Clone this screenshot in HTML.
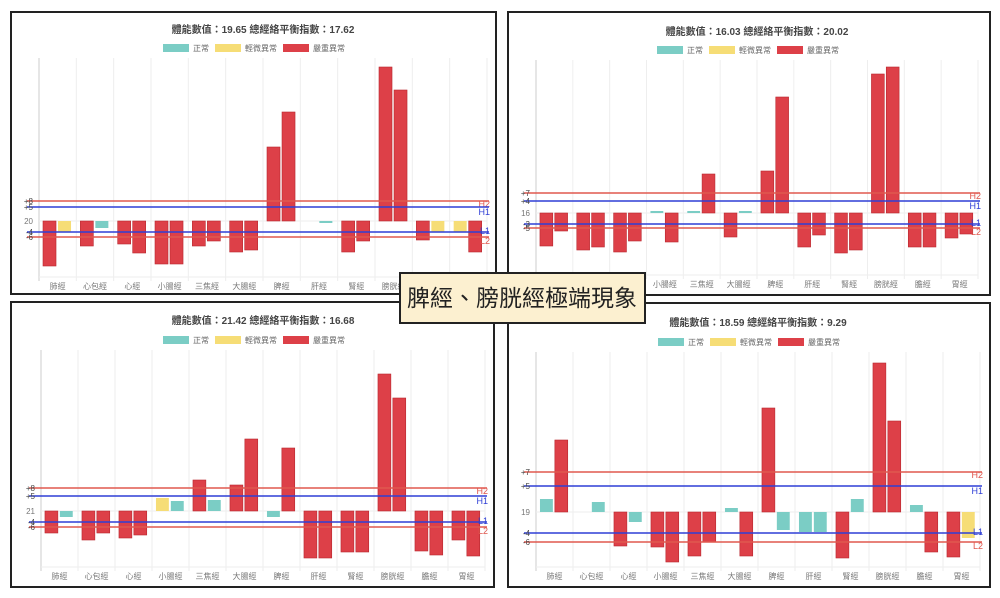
<!DOCTYPE html>
<html><head><meta charset="utf-8"><style>
body{margin:0;background:#fff;}
svg{display:block;font-family:"Liberation Sans","Noto Sans CJK TC",sans-serif;}
</style></head><body>
<svg id="s" width="1000" height="598" viewBox="0 0 1000 598"></svg>
<script>
const categories=["肺經","心包經","心經","小腸經","三焦經","大腸經","脾經","肝經","腎經","膀胱經","膽經","胃經"];
// series values (deviation units), 'r'=red,'y'=yellow,'t'=teal status
const c1Left=[-45,-25,-23,-43,-25,-31,74,0,-31,154,-19,-11];
const c1Right=[-11,-7,-32,-43,-20,-29,109,-2,-20,131,-11,-31];
const c1LeftC=["r","r","r","r","r","r","r","t","r","r","r","y"];
const c1RightC=["y","t","r","r","r","r","r","t","r","r","y","r"];
const c2Left=[-33,-37,-39,2,2,-24,42,-34,-40,139,-34,-25];
const c2Right=[-18,-34,-28,-29,39,2,116,-22,-37,146,-34,-21];
const c2LeftC=["r","r","r","t","t","r","r","r","r","r","r","r"];
const c2RightC=["r","r","r","r","r","t","r","r","r","r","r","r"];
const c3Left=[-22,-29,-27,13,31,26,-6,-47,-41,137,-40,-29];
const c3Right=[-6,-22,-24,10,11,72,63,-47,-41,113,-44,-45];
const c3LeftC=["r","r","r","y","r","r","t","r","r","r","r","r"];
const c3RightC=["t","r","r","t","t","r","r","r","r","r","r","r"];
const c4Left=[13,0,-34,-35,-44,4,104,-20,-46,149,7,-45];
const c4Right=[72,10,-10,-50,-30,-44,-18,-20,13,91,-40,-26];
const c4LeftC=["t","t","r","r","r","t","r","t","r","r","t","r"];
const c4RightC=["r","t","t","r","r","r","t","t","t","r","r","y"];
const titles=["體能數值：19.65 總經絡平衡指數：17.62","體能數值：16.03 總經絡平衡指數：20.02","體能數值：21.42 總經絡平衡指數：16.68","體能數值：18.59 總經絡平衡指數：9.29"];
const baseLabels=["20","16","21","19"];
const hiLabels=[["+8","+5"],["+7","+4"],["+8","+5"],["+7","+5"]];
const loLabels=[["-4","-6"],["-3","-5"],["-4","-6"],["-4","-6"]];
const legendNames=["正常","輕微異常","嚴重異常"];

const COL={r:"#dd4048",y:"#f6dd76",t:"#7bcdc5"};
const layouts=[
 {box:[11,12,485,282],L:39,R:487,T:58,B:277,base:221,h2:201,h1:207,l1:232,l2:237,ty:33,ly:48},
 {box:[508,12,482,283],L:536,R:978,T:60,B:275,base:213,h2:193,h1:201,l1:224,l2:228,ty:35,ly:50},
 {box:[11,302,483,285],L:41,R:485,T:350,B:567,base:511,h2:488,h1:496,l1:522,l2:527,ty:324,ly:340},
 {box:[508,303,482,284],L:536,R:980,T:352,B:567,base:512,h2:472,h1:486,l1:533,l2:542,ty:326,ly:342}
];
const data=[[c1Left,c1Right,c1LeftC,c1RightC],[c2Left,c2Right,c2LeftC,c2RightC],[c3Left,c3Right,c3LeftC,c3RightC],[c4Left,c4Right,c4LeftC,c4RightC]];
const NS="http://www.w3.org/2000/svg";
const svg=document.getElementById('s');
function el(t,a,p){const e=document.createElementNS(NS,t);for(const k in a)e.setAttribute(k,a[k]);(p||svg).appendChild(e);return e;}
function txt(s,a,p){const e=el('text',a,p);e.textContent=s;return e;}

layouts.forEach((g,ci)=>{
 const grp=el('g',{});
 
 
 const bx=el('rect',{x:g.box[0],y:g.box[1],width:g.box[2],height:g.box[3],fill:'#fff',stroke:'#222','stroke-width':2},grp);
 
 
 const cx=(g.L+g.R)/2;
 const t=txt(titles[ci],{x:cx,y:g.ty,'text-anchor':'middle','font-size':10,'font-weight':'bold',fill:'#444'},grp);
 
 
 // legend
 const lx=[cx-100,cx-48,cx+20];
 ["t","y","r"].forEach((c,i)=>{
  const lg=el('g',{},grp);
  
  
  el('rect',{x:lx[i],y:g.ly-4,width:26,height:8,fill:COL[c]},lg);
  txt(legendNames[i],{x:lx[i]+30,y:g.ly+3,'font-size':8,fill:'#666'},lg);
 });
 const cw=(g.R-g.L)/categories.length;
 for(let i=0;i<=categories.length;i++){
  const gl=el('line',{x1:g.L+i*cw,x2:g.L+i*cw,y1:g.T,y2:g.B+4,stroke:i==0?'#ccc':'#eee','stroke-width':1},grp);
  
  
 }
 el('line',{x1:g.L,x2:g.R,y1:g.B,y2:g.B,stroke:'#eee'},grp);
 el('line',{x1:g.L,x2:g.R,y1:g.base,y2:g.base,stroke:'#eee'},grp);
 const scale=v=>g.base-v;
 const [lv,rv,lc,rc]=data[ci];
 categories.forEach((cat,i)=>{
  const x0=g.L+i*cw;
  [[lv[i],lc[i],4],[rv[i],rc[i],19]].forEach(([v,c,off],j)=>{
   if(v===0)return;
   const y1=scale(v),y0=scale(0);
   const b=el('rect',{x:x0+off*cw/37.3,y:Math.min(y0,y1),width:13*cw/37.3,height:Math.abs(y1-y0),fill:COL[c],stroke:c==='r'?'#b8282f':'none','stroke-width':0.6},grp);
   
   
  });
  const lb=txt(cat,{x:x0+cw/2,y:g.B+12,'text-anchor':'middle','font-size':8,fill:'#777'},grp);
  
  
 });
 [[g.h2,'#e0584f','H2',hiLabels[ci][0],1],[g.h1,'#2f3fd6','H1',hiLabels[ci][1],1],[g.l1,'#2f3fd6','L1',loLabels[ci][0],0],[g.l2,'#e0584f','L2',loLabels[ci][1],0]].forEach(([y,col,nm,lab,hi])=>{
  const ln=el('line',{x1:g.L-12,x2:g.R+2,y1:y,y2:y,stroke:col,'stroke-width':1.5},grp);
  
  
  txt(nm,{x:g.R+3,y:hi?y+(nm=='H2'?6:8):y+(nm=='L1'?2:7),'text-anchor':'end','font-size':9,fill:col},grp);
  txt(lab,{x:g.L-6,y:y+3,'text-anchor':'end','font-size':8,fill:'#444'},grp);
 });
 txt(baseLabels[ci],{x:g.L-6,y:g.base+3,'text-anchor':'end','font-size':8,fill:'#777'},grp);
});
const cap=el('g',{});


el('rect',{x:400,y:273,width:245,height:50,fill:'#fcf0d0',stroke:'#222','stroke-width':2},cap);
txt('脾經、膀胱經極端現象',{x:522,y:306,'text-anchor':'middle','font-size':23,fill:'#222','font-family':'"Noto Sans CJK TC",sans-serif'},cap);
</script>
</body></html>
